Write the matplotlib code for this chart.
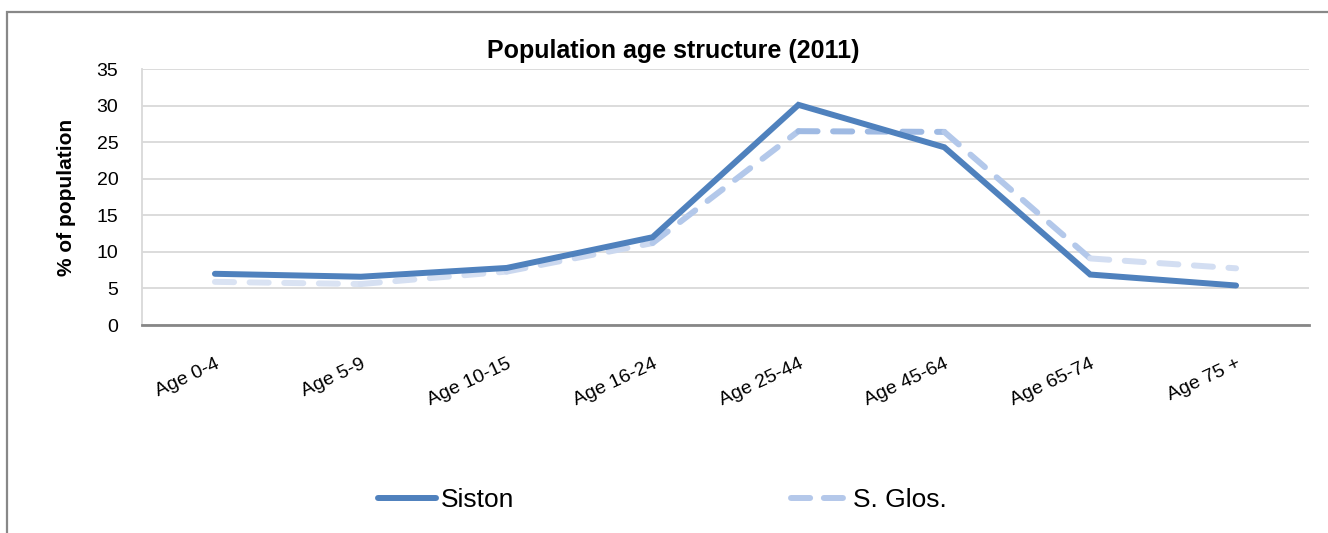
import matplotlib
matplotlib.use("Agg")
import matplotlib.pyplot as plt
from matplotlib.lines import Line2D
from matplotlib.patches import Rectangle

plt.rcParams['font.family'] = ['Liberation Sans', 'DejaVu Sans']

categories = ["Age 0-4", "Age 5-9", "Age 10-15", "Age 16-24",
              "Age 25-44", "Age 45-64", "Age 65-74", "Age 75 +"]
siston = [7.0, 6.6, 7.8, 12.0, 30.1, 24.3, 6.9, 5.4]
s_glos = [5.9, 5.6, 7.3, 11.2, 26.5, 26.4, 9.1, 7.75]
y_ticks = [0, 5, 10, 15, 20, 25, 30, 35]

# light at the ends, deeper blue towards the middle of the series
glos_segment_colors = ["#dae3f3", "#d6e0f2", "#cbd8ef", "#b3c8ea",
                       "#9fbae3", "#b3c8ea", "#d3def2"]

W, H = 1328, 533
fig = plt.figure(figsize=(W / 100, H / 100), dpi=100)
fig.patch.set_facecolor("white")

# outer frame of the chart
fig.patches.append(Rectangle((7 / W, -0.05), 1.2, 1 - 12 / H + 0.05,
                             transform=fig.transFigure, fill=False,
                             edgecolor="#888888", linewidth=1.6))

ax = fig.add_axes([142 / W, 1 - 325 / H, (1309 - 142) / W, (325 - 69) / H])
x = list(range(len(categories)))

ax.plot(x, siston, color="#4f81bd", linewidth=4.3,
        solid_capstyle="round", solid_joinstyle="miter", zorder=3)

for i, c in enumerate(glos_segment_colors):
    ax.plot(x[i:i + 2], s_glos[i:i + 2], color=c, linewidth=4.3,
            linestyle=(0, (3.2, 2.6)), dash_capstyle="round",
            dash_joinstyle="round", zorder=2)

ax.set_xlim(-0.5, len(categories) - 0.5)
ax.set_ylim(0, 35)
ax.set_yticks(y_ticks)
ax.set_xticks(x)
ax.set_xticklabels(categories, rotation=25, ha="right", va="top",
                   rotation_mode="anchor")
ax.tick_params(axis="y", length=0, pad=17, labelsize=14)
ax.tick_params(axis="x", length=0, pad=22, labelsize=14)
ax.grid(axis="y", color="#d9d9d9", linewidth=1.3)
ax.set_axisbelow(True)
for s in ("top", "right"):
    ax.spines[s].set_visible(False)
ax.spines["left"].set_color("#d9d9d9")
ax.spines["left"].set_linewidth(1.3)
ax.spines["bottom"].set_color("#878787")
ax.spines["bottom"].set_linewidth(2)
ax.spines["bottom"].set_zorder(4)

ax.set_ylabel("% of population", fontsize=15, fontweight="bold")
ax.yaxis.set_label_coords(-0.0566, 0.5)

fig.text(673 / W, 1 - 51 / H, "Population age structure (2011)",
         ha="center", va="center", fontsize=18, fontweight="bold")

handles = [
    Line2D([], [], color="#4f81bd", linewidth=4.3, solid_capstyle="round"),
    Line2D([], [], color="#b4c8ea", linewidth=4.3, linestyle=(0, (3.2, 2.3)),
           dash_capstyle="round"),
]
fig.legend(handles, ["Siston", "S. Glos."], loc="center",
           bbox_to_anchor=(662.5 / W, 1 - 500 / H), ncol=2, frameon=False,
           fontsize=19, handlelength=2.2, handletextpad=0.15,
           columnspacing=10.5)

fig.savefig("out.png", dpi=100, facecolor="white")
